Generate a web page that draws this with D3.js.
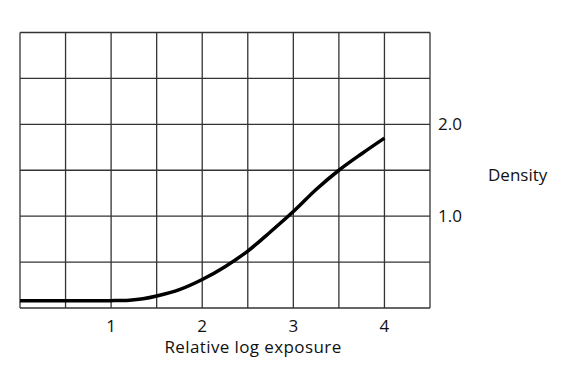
<!DOCTYPE html>
<html>
<head>
<meta charset="utf-8">
<script src="https://cdn.jsdelivr.net/npm/d3@7"></script>
<style>
  body { margin: 0; background: #fff; }
  text { font-family: "Open Sans", sans-serif; fill: #111; }
</style>
</head>
<body>
<div class="chart"></div>
<script>
// characteristic curve
var exposure = [0, 0.5, 1.0, 1.2, 1.35, 1.5, 1.75, 2.0, 2.25, 2.5, 2.75, 3.0, 3.25, 3.5, 3.75, 4.0];
var density  = [0.08, 0.08, 0.08, 0.085, 0.1, 0.13, 0.2, 0.31, 0.45, 0.62, 0.83, 1.05, 1.29, 1.5, 1.68, 1.85];

var xTicks = [1, 2, 3, 4];
var yTicks = [1.0, 2.0];
var xGrid = d3.range(0, 4.51, 0.5);
var yGrid = d3.range(0, 3.01, 0.5);

var svgWidth = 569;
var svgHeight = 373;

var svg = d3.select(".chart")
  .append("svg")
  .attr("width", svgWidth)
  .attr("height", svgHeight);

var x = d3.scaleLinear().domain([0, 4.5]).range([20, 430]);
var y = d3.scaleLinear().domain([0, 3]).range([308, 32.5]);

// grid
svg.append("g")
  .selectAll("line")
  .data(xGrid)
  .enter()
  .append("line")
  .attr("x1", d => x(d))
  .attr("x2", d => x(d))
  .attr("y1", y(0))
  .attr("y2", y(3))
  .attr("stroke", "#333")
  .attr("stroke-width", 1.3);

svg.append("g")
  .selectAll("line")
  .data(yGrid)
  .enter()
  .append("line")
  .attr("x1", x(0))
  .attr("x2", x(4.5))
  .attr("y1", d => y(d))
  .attr("y2", d => y(d))
  .attr("stroke", "#333")
  .attr("stroke-width", 1.3);

// curve
var data = exposure.map((e, i) => ({e: e, d: density[i]}));
var line = d3.line()
  .x(d => x(d.e))
  .y(d => y(d.d))
  .curve(d3.curveCatmullRom);

svg.append("path")
  .datum(data)
  .attr("d", line)
  .attr("fill", "none")
  .attr("stroke", "#000")
  .attr("stroke-width", 3.5);

// x tick labels
svg.append("g")
  .selectAll("text")
  .data(xTicks)
  .enter()
  .append("text")
  .attr("x", d => x(d))
  .attr("y", 332)
  .attr("text-anchor", "middle")
  .attr("font-size", 17)
  .text(d => d);

svg.append("text")
  .attr("x", 253)
  .attr("y", 353)
  .attr("text-anchor", "middle")
  .attr("font-size", 17)
  .attr("letter-spacing", 0.4)
  .text("Relative log exposure");

// y tick labels on the right
svg.append("g")
  .selectAll("text")
  .data(yTicks)
  .enter()
  .append("text")
  .attr("x", 438)
  .attr("y", d => y(d))
  .attr("dy", "0.36em")
  .attr("font-size", 17)
  .text(d => d.toFixed(1));

svg.append("text")
  .attr("x", 488)
  .attr("y", 175)
  .attr("dy", "0.36em")
  .attr("font-size", 17)
  .text("Density");
</script>
</body>
</html>
